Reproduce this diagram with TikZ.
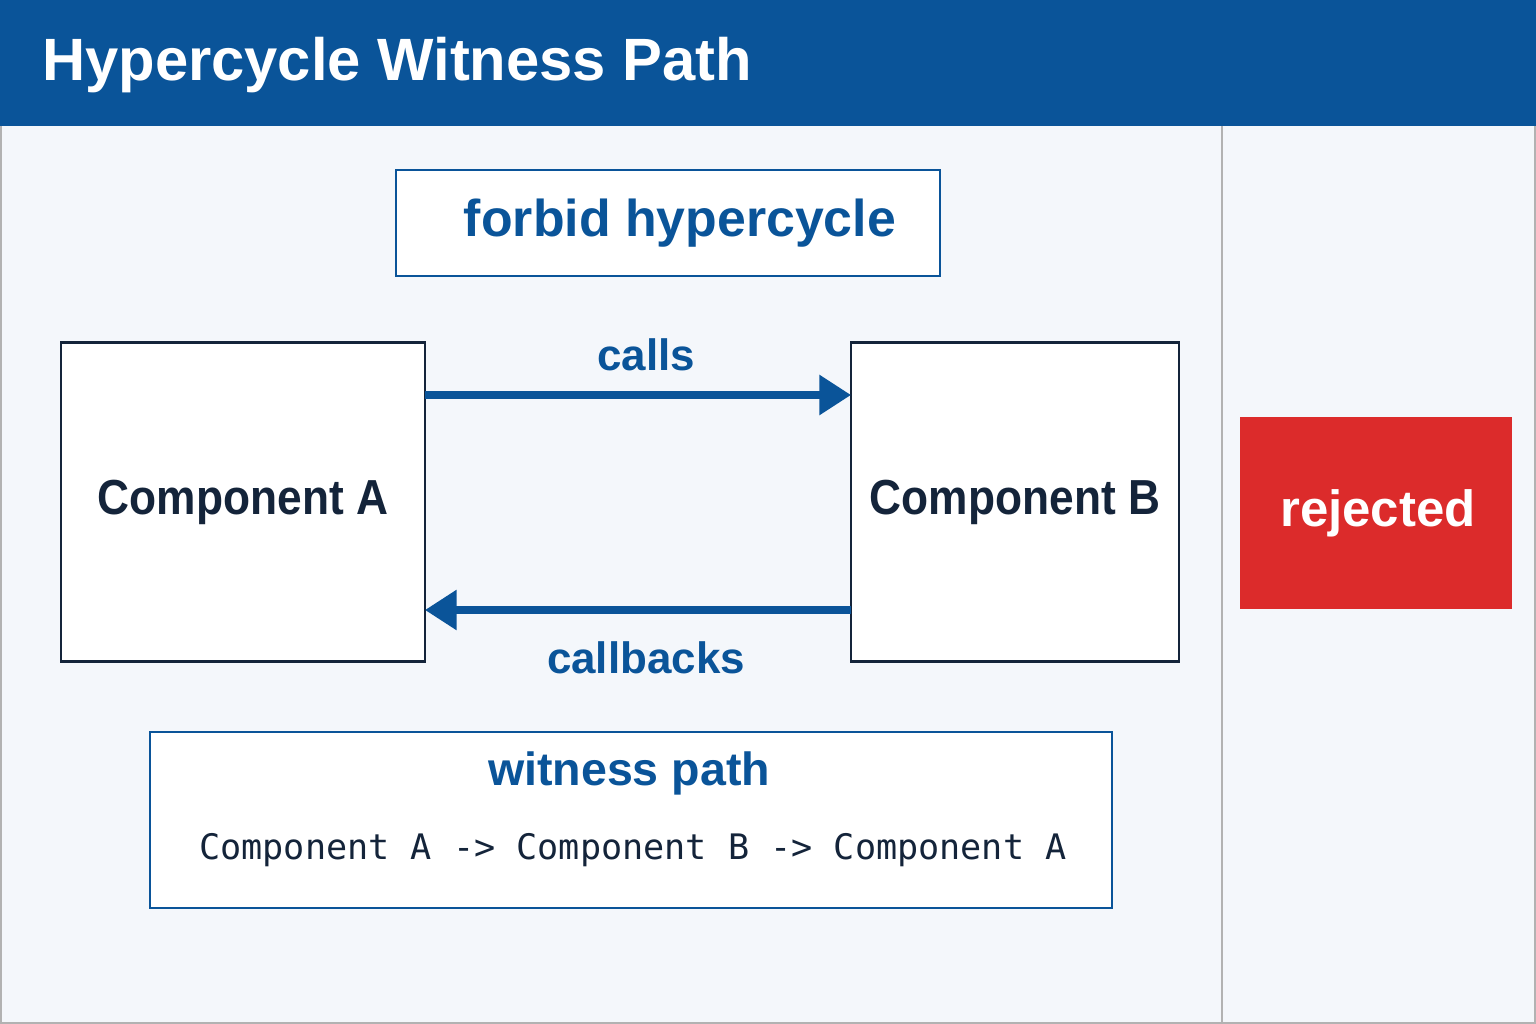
\documentclass[tikz,border=0pt]{standalone}
\usepackage{fontspec}
\setmainfont{Liberation Sans}
\setmonofont{DejaVu Sans Mono}
\usetikzlibrary{arrows.meta}
\definecolor{bar}{HTML}{0A5499}
\definecolor{bg}{HTML}{F4F7FB}
\definecolor{ink}{HTML}{14243A}
\definecolor{red1}{HTML}{DC2B2B}
\begin{document}
\begin{tikzpicture}[x=0.02cm,y=-0.02cm,
  box/.style={draw=ink,fill=white,line width=1.2pt},
  bbox/.style={draw=bar,fill=white,line width=1.2pt},
  lbl/.style={text=bar,font=\bfseries\fontsize{25}{28}\selectfont},
  arr/.style={draw=bar,line width=4pt,-{Triangle[length=18pt,width=22pt]}}]
\useasboundingbox (0,0) rectangle (1536,1024);
\fill[bg] (0,0) rectangle (1536,1024);
\draw[gray!60,line width=1pt] (1,1) rectangle (1535,1023);
\fill[bar] (0,0) rectangle (1536,126);
\draw[gray!60,line width=1pt] (1222,126) -- (1222,1024);
\node[anchor=west,text=white,font=\bfseries\fontsize{34}{38}\selectfont] (title) at (36,65) {Hypercycle Witness Path};
\node[bbox,minimum width=544*0.02cm,minimum height=106*0.02cm] (fb) at (668,223) {};
\node[text=bar,font=\bfseries\fontsize{29.5}{32}\selectfont] (fbt) at (680,223) {forbid hypercycle};
\node[box,minimum width=364*0.02cm,minimum height=319*0.02cm] (A) at (243,502) {};
\node[text=ink,font=\bfseries\fontsize{28}{32}\selectfont,xscale=0.9,transform shape] (At) at (243,502) {Component A};
\node[box,minimum width=328*0.02cm,minimum height=319*0.02cm] (B) at (1015,502) {};
\node[text=ink,font=\bfseries\fontsize{28}{32}\selectfont,xscale=0.9,transform shape] (Bt) at (1015,502) {Component B};
\coordinate (a1) at (425,395); \coordinate (b1) at (851,395);
\coordinate (a2) at (425,610); \coordinate (b2) at (851,610);
\draw[arr] (a1) -- (b1);
\draw[arr] (b2) -- (a2);
\node[lbl] (calls) at (646,355) {calls};
\node[lbl] (cb) at (646,658) {callbacks};
\node[fill=red1,minimum width=272*0.02cm,minimum height=192*0.02cm] (rej) at (1376,513) {};
\node[text=white,font=\bfseries\fontsize{29}{32}\selectfont] (rejt) at (1378,513) {rejected};
\node[bbox,minimum width=962*0.02cm,minimum height=176*0.02cm] (wp) at (631,820) {};
\node[lbl,font=\bfseries\fontsize{26.5}{30}\selectfont] (wpt) at (629,773) {witness path};
\node[text=ink,font=\ttfamily\fontsize{20}{24}\selectfont] (wpp) at (633,850) {Component A -> Component B -> Component A};
\end{tikzpicture}
\end{document}
